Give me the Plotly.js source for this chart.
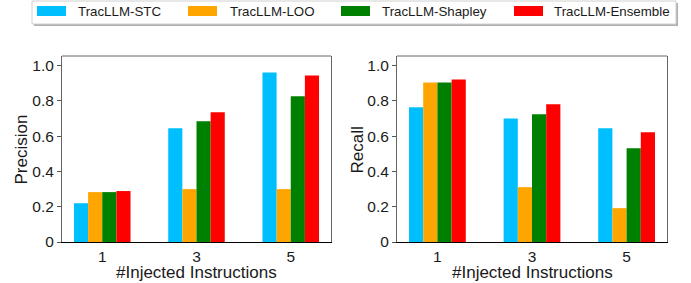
<!DOCTYPE html>
<html>
<head>
<meta charset="utf-8">
<script src="https://cdn.plot.ly/plotly-3.0.1.min.js"></script>
<style>html,body{margin:0;padding:0;background:#fff;}#chart{width:691px;height:283px;}</style>
</head>
<body>
<div id="chart"></div>
<script>
// ---- data ----
var categories = ["1", "3", "5"];
var seriesNames = ["TracLLM-STC", "TracLLM-LOO", "TracLLM-Shapley", "TracLLM-Ensemble"];
var seriesColors = ["#00BFFF", "#FFA500", "#008000", "#FF0000"];
var precisionSTC = [0.22, 0.645, 0.962];
var precisionLOO = [0.283, 0.30, 0.30];
var precisionShapley = [0.283, 0.685, 0.826];
var precisionEnsemble = [0.289, 0.736, 0.945];
var recallSTC = [0.764, 0.70, 0.645];
var recallLOO = [0.905, 0.311, 0.192];
var recallShapley = [0.905, 0.724, 0.532];
var recallEnsemble = [0.922, 0.781, 0.622];
var yTickVals = [0, 0.2, 0.4, 0.6, 0.8, 1.0];
var yTickText = ["0", "0.2", "0.4", "0.6", "0.8", "1.0"];
var xTitle = "#Injected Instructions";
var yTitles = ["Precision", "Recall"];

var W = 691, H = 283;
function px(x){ return x / W; }
function py(y){ return 1 - y / H; }

var xIdx = categories.map(function(_, i){ return i; });
var precision = [precisionSTC, precisionLOO, precisionShapley, precisionEnsemble];
var recall = [recallSTC, recallLOO, recallShapley, recallEnsemble];

var traces = [];
[precision, recall].forEach(function(set, k){
  set.forEach(function(vals, s){
    traces.push({
      type: "bar", x: xIdx, y: vals, name: seriesNames[s],
      xaxis: k === 0 ? "x" : "x2", yaxis: k === 0 ? "y" : "y2",
      marker: {color: seriesColors[s], line: {width: 0}},
      showlegend: false, hoverinfo: "skip"
    });
  });
});

var font = {family: "Liberation Sans, Arial, sans-serif", color: "#1a1a1a"};
function xax(domain){
  return {
    domain: domain, range: [-0.427, 2.427], tickmode: "array", tickvals: xIdx, ticktext: categories,
    showgrid: false, zeroline: false, showline: true, linecolor: "#000", linewidth: 1,
    ticks: "", ticklabelstandoff: 0,
    tickfont: {family: font.family, size: 15.5, color: font.color},
    fixedrange: true
  };
}
function yax(domain){
  return {
    domain: domain, range: [0, 1.055], tickmode: "array", tickvals: yTickVals, ticktext: yTickText,
    showgrid: false, zeroline: false, showline: true, linecolor: "#666", linewidth: 1, mirror: true,
    ticks: "outside", ticklen: 4, tickcolor: "#555", tickwidth: 1,
    tickfont: {family: font.family, size: 15.5, color: font.color},
    fixedrange: true
  };
}

var yDom = [py(242), py(56)];
var xDoms = [[px(62), px(331)], [px(397), px(667)]];
var yTitleX = [21, 357];
var shapes = [];
var annotations = [];
["x", "x2"].forEach(function(ax, k){
  // top spine (gray)
  shapes.push({type: "line", xref: ax + " domain", yref: "paper", x0: 0, x1: 1, y0: yDom[1], y1: yDom[1],
    line: {color: "#666", width: 1}});
  annotations.push({xref: ax + " domain", yref: "paper", x: 0.5, y: py(272.5), xanchor: "center", yanchor: "middle",
    text: xTitle, showarrow: false, font: {family: font.family, size: 17, color: font.color}});
  annotations.push({xref: "paper", yref: "paper", x: px(yTitleX[k]), y: py(149.5), xanchor: "center", yanchor: "middle",
    textangle: -90, text: yTitles[k], showarrow: false, font: {family: font.family, size: 17, color: font.color}});
});
// legend box with shadow
shapes.push({type: "rect", xref: "paper", yref: "paper", x0: px(34), x1: px(678), y0: py(26), y1: py(3),
  line: {width: 0}, fillcolor: "#b0b0b0"});
shapes.push({type: "rect", xref: "paper", yref: "paper", x0: px(32), x1: px(676), y0: py(24), y1: py(1),
  line: {width: 1, color: "#d0d0d0"}, fillcolor: "#fff"});
var patchX = [37, 188, 341, 514];
var textX = [76, 228, 380, 552];
seriesNames.forEach(function(n, i){
  shapes.push({type: "rect", xref: "paper", yref: "paper", x0: px(patchX[i]), x1: px(patchX[i] + 29),
    y0: py(16), y1: py(6), line: {width: 0}, fillcolor: seriesColors[i]});
  annotations.push({xref: "paper", yref: "paper", x: px(textX[i]), y: py(12), xanchor: "left", yanchor: "middle",
    text: n, showarrow: false, font: {family: font.family, size: 13.3, color: font.color}});
});

var layout = {
  width: W, height: H, margin: {l: 0, r: 0, t: 0, b: 0},
  paper_bgcolor: "#fff", plot_bgcolor: "#fff",
  barmode: "group", bargap: 0.4, bargroupgap: 0,
  showlegend: false,
  xaxis: xax(xDoms[0]), yaxis: yax(yDom),
  xaxis2: xax(xDoms[1]), yaxis2: yax(yDom),
  shapes: shapes, annotations: annotations
};
layout.xaxis.anchor = "y"; layout.yaxis.anchor = "x";
layout.xaxis2.anchor = "y2"; layout.yaxis2.anchor = "x2";

Plotly.newPlot("chart", traces, layout, {staticPlot: true, displayModeBar: false});
</script>
</body>
</html>
